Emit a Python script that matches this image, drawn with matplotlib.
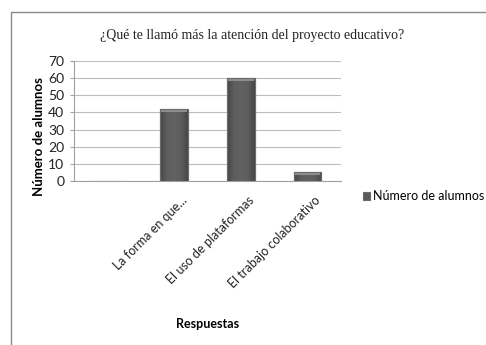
import matplotlib
matplotlib.use("Agg")
import matplotlib.pyplot as plt
import numpy as np
from matplotlib.patches import Rectangle
from matplotlib.colors import LinearSegmentedColormap
from matplotlib.transforms import ScaledTranslation

categories = ["", "La forma en que...", "El uso de plataformas", "El trabajo colaborativo"]
values = [0, 42, 60, 5]
yticks = [0, 10, 20, 30, 40, 50, 60, 70]
title = "¿Qué te llamó más la atención del proyecto educativo?"
series_name = "Número de alumnos"
xlabel = "Respuestas"

plt.rcParams['font.family'] = ['Lato', 'DejaVu Sans']

fig = plt.figure(figsize=(4.86, 3.45), dpi=100)
fig.patch.set_facecolor('white')

# outer frame
fig.patches.append(Rectangle((11/486, -0.1), 1.2, 1 - 12/345 + 0.1, transform=fig.transFigure,
                             fill=False, edgecolor='#8a8a8a', linewidth=1.0))

ax = fig.add_axes([74/486, 1 - 181/345, (341 - 74)/486, (181 - 61)/345])
x = list(range(len(categories)))
bars = ax.bar(x, values, width=0.415, color='#5a5a5a', edgecolor='#6a6a6a', linewidth=0.8,
              label=series_name, zorder=3)

# shading of the bars (gradient clipped to each bar, light top bevel)
cmap = LinearSegmentedColormap.from_list('bar', ['#474747', '#5e5e5e', '#626262', '#5e5e5e', '#474747'])
grad = np.linspace(0, 1, 64).reshape(1, -1)
for b in bars:
    if b.get_height() <= 0:
        continue
    x0, y0, w, h = b.get_x(), b.get_y(), b.get_width(), b.get_height()
    im = ax.imshow(grad, extent=(x0, x0 + w, y0, y0 + h), aspect='auto', cmap=cmap, zorder=3.5,
                   interpolation='bilinear')
    im.set_clip_path(b)
    bev = min(1.6, h * 0.3)
    ax.add_patch(Rectangle((x0 + w * 0.04, y0 + h - bev), w * 0.92, bev, facecolor='#8e8e8e',
                           edgecolor='none', zorder=3.6))
    ax.add_patch(Rectangle((x0, y0), w, h, fill=False, edgecolor='#6c6c6c', linewidth=0.8, zorder=3.7))
ax.set_xlim(-0.5, len(categories) - 0.5)
ax.set_ylim(0, 70)
ax.set_aspect('auto')

ax.set_yticks(yticks)
ax.set_yticklabels([str(t) for t in yticks], fontsize=10, color='#222222')
ax.yaxis.grid(True, color='#bdbdbd', linewidth=0.8, zorder=0)
ax.set_axisbelow(True)
for s in ['top', 'right']:
    ax.spines[s].set_visible(False)
ax.spines['left'].set_color('#a0a0a0')
ax.spines['bottom'].set_color('#a0a0a0')
ax.tick_params(axis='y', length=3, color='#a0a0a0', pad=4)
ax.tick_params(axis='x', length=0, pad=0)
ax.set_xticks(x)
ax.set_xticklabels(categories, rotation=45, ha='right', va='center', rotation_mode='anchor',
                   fontsize=9, color='#222222')
off = ScaledTranslation(11/100, -17/100, fig.dpi_scale_trans)
for lab in ax.get_xticklabels():
    lab.set_transform(lab.get_transform() + off)

ax.set_ylabel(series_name, fontsize=9.5, fontweight='bold', labelpad=4)
ax.yaxis.set_label_coords(-0.11, 0.37)
ax.set_xlabel(xlabel, fontsize=9, fontweight='bold')
ax.xaxis.set_label_coords(0.5, -1.14)

fig.text(252/486, 1 - 35/345, title, ha='center', va='center', fontsize=10,
         family=['Liberation Serif'], color='#222222')

leg = ax.legend(loc='center left', bbox_to_anchor=(1.062, -0.125), frameon=False, fontsize=9,
                handlelength=0.6, handleheight=0.6, handletextpad=0.2, borderaxespad=0)

fig.savefig('out.png', dpi=100, facecolor='white')
